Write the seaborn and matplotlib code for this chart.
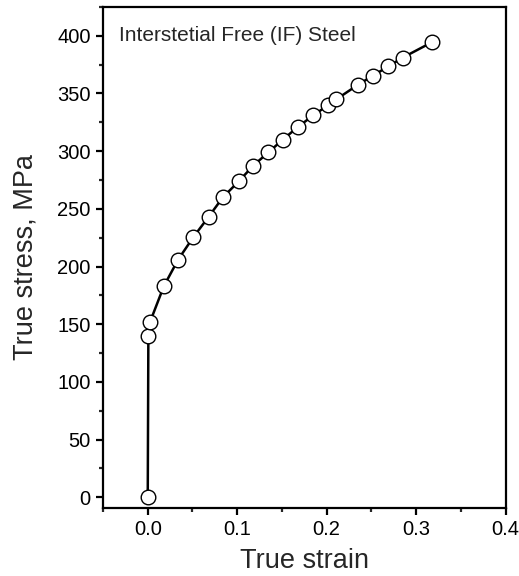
import matplotlib
matplotlib.use("Agg")
import matplotlib.pyplot as plt
import seaborn as sns
import pandas as pd
from matplotlib.ticker import MultipleLocator

strain = [0.0, 0.0007, 0.0026, 0.018, 0.034, 0.051, 0.068, 0.084, 0.102, 0.118,
          0.135, 0.151, 0.168, 0.185, 0.202, 0.211, 0.235, 0.252, 0.269, 0.285, 0.318]
stress = [0, 140, 152, 183, 206, 225.5, 243, 260, 274, 287.5,
          299, 310, 321, 331, 340, 345, 357.5, 365.5, 373.5, 381, 394.5]
title_text = "Interstetial Free (IF) Steel"
xlabel = "True strain"
ylabel = "True stress, MPa"

df = pd.DataFrame({"strain": strain, "stress": stress})

sns.set_style("ticks")
plt.rcParams['font.family'] = ['Liberation Sans', 'DejaVu Sans']

fig = plt.figure(figsize=(5.19, 5.76), dpi=100)
ax = fig.add_axes([0.1985, 0.1186, 0.7755, 0.8694])

sns.lineplot(data=df, x="strain", y="stress", sort=False, color="black",
             linewidth=1.8, marker="o", markersize=10.5, markerfacecolor="white",
             markeredgecolor="black", markeredgewidth=1.0, ax=ax)

ax.set_xlim(-0.05, 0.4)
ax.set_ylim(-9, 425)
ax.xaxis.set_major_locator(MultipleLocator(0.1))
ax.xaxis.set_minor_locator(MultipleLocator(0.05))
ax.yaxis.set_major_locator(MultipleLocator(50))
ax.yaxis.set_minor_locator(MultipleLocator(25))
ax.set_xticks([0.0, 0.1, 0.2, 0.3, 0.4])
ax.set_xticklabels(["0.0", "0.1", "0.2", "0.3", "0.4"])

for s in ax.spines.values():
    s.set_linewidth(1.6)
    s.set_color("black")
ax.tick_params(which="major", direction="out", length=5, width=1.6, labelsize=14.5,
               colors="black", top=False, right=False, pad=4)
ax.tick_params(which="minor", direction="out", length=3, width=1.6,
               top=False, right=False)

ax.set_xlabel(xlabel, fontsize=19.5, labelpad=6.5)
ax.set_ylabel(ylabel, fontsize=19.5, labelpad=13)
ax.text(0.04, 0.942, title_text, transform=ax.transAxes, fontsize=15,
        va="center", ha="left")

fig.savefig("out.png", dpi=100)
